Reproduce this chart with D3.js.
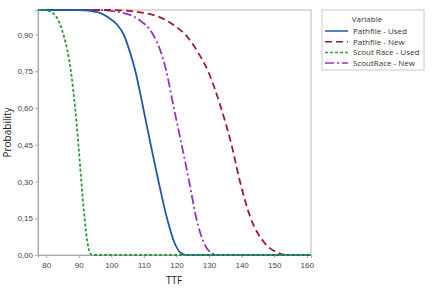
<!DOCTYPE html>
<html lang="en">
<head>
    <meta charset="UTF-8">
    <title>TTF Probability</title>
    <script src="https://d3js.org/d3.v7.min.js"></script>
    <style>
        body { margin: 0; background: #fff; }
        svg { font-family: "Open Sans", "Noto Sans", sans-serif; }
        .tick text { fill: #444; font-size: 8px; }
        .axis-title { fill: #222; font-size: 10px; }
        .legend text { fill: #333; font-size: 8px; }
    </style>
</head>
<body>
    <svg id="chart"></svg>
    <script>
        // Values
        var seriesNames = ["Pathfile - Used", "Pathfile - New", "Scout Race - Used", "ScoutRace - New"];
        var xTicks = [80, 90, 100, 110, 120, 130, 140, 150, 160];
        var yTicks = [0, 0.15, 0.30, 0.45, 0.60, 0.75, 0.90];

        var pathfileUsedX = [77.5, 90, 96, 99, 101.8, 103.8, 105.8, 107.4, 109.8, 112.1, 114.5, 117.1, 119.4, 121.2, 123, 161.3];
        var pathfileUsedY = [1, 1, 0.99, 0.97, 0.94, 0.90, 0.825, 0.75, 0.60, 0.45, 0.30, 0.15, 0.05, 0.01, 0, 0];

        var pathfileNewX = [77.5, 100, 109, 115, 120, 122.7, 126.7, 129.7, 133.7, 136.9, 139.5, 142.8, 147, 151, 154, 161.3];
        var pathfileNewY = [1, 1, 0.99, 0.97, 0.93, 0.90, 0.825, 0.75, 0.60, 0.45, 0.30, 0.15, 0.05, 0.01, 0, 0];

        var scoutUsedX = [77.5, 79, 81.8, 84, 85.3, 87.6, 88.9, 89.9, 90.8, 91.8, 92.7, 93.4, 94.2, 161.3];
        var scoutUsedY = [1, 1, 0.99, 0.95, 0.90, 0.75, 0.60, 0.45, 0.30, 0.15, 0.05, 0.01, 0, 0];

        var scoutNewX = [77.5, 96, 103, 108.5, 112.8, 115.3, 116.9, 119.2, 121.6, 123.9, 126.1, 128.4, 130.5, 133, 161.3];
        var scoutNewY = [1, 1, 0.99, 0.96, 0.90, 0.825, 0.75, 0.60, 0.45, 0.30, 0.15, 0.05, 0.01, 0, 0];

        var colors = ["#1f5aa6", "#9a1c2e", "#2e9a3e", "#9b30c6"];
        var dashes = ["none", "7,4", "3,2", "9,3,2,3"];

        var series = [
            { name: seriesNames[0], xs: pathfileUsedX, ys: pathfileUsedY },
            { name: seriesNames[1], xs: pathfileNewX, ys: pathfileNewY },
            { name: seriesNames[2], xs: scoutUsedX, ys: scoutUsedY },
            { name: seriesNames[3], xs: scoutNewX, ys: scoutNewY }
        ];

        var W = 432, H = 291;
        var margin = { top: 10, right: 121, bottom: 36, left: 38 };
        var width = W - margin.left - margin.right,
            height = H - margin.top - margin.bottom;

        var x = d3.scaleLinear().domain([77.5, 161.3]).range([0, width]);
        var y = d3.scaleLinear().domain([0, 1]).range([height, 0]);

        var svg = d3.select("#chart").attr("width", W).attr("height", H);
        var g = svg.append("g")
            .attr("transform", "translate(" + margin.left + "," + margin.top + ")");

        // frame
        g.append("rect")
            .attr("width", width).attr("height", height)
            .attr("fill", "none").attr("stroke", "#cfcfcf").attr("stroke-width", 1.5);

        var fmt = function(d) { return d3.format(".2f")(d).replace(".", ","); };

        var xAxis = g.append("g")
            .attr("transform", "translate(0," + height + ")")
            .call(d3.axisBottom(x).tickValues(xTicks).tickSize(3).tickPadding(4));
        var yAxis = g.append("g")
            .call(d3.axisLeft(y).tickValues(yTicks).tickFormat(fmt).tickSize(3).tickPadding(2));
        [xAxis, yAxis].forEach(function(a) {
            a.select(".domain").attr("stroke", "#aaa");
            a.selectAll(".tick line").attr("stroke", "#aaa");
        });

        var line = d3.line()
            .x(function(d) { return x(d[0]); })
            .y(function(d) { return y(d[1]); })
            .curve(d3.curveMonotoneX);

        // draw order so the blue solid sits under dashed ones like the original
        [3, 1, 0, 2].forEach(function(i) {
            var s = series[i];
            g.append("path")
                .datum(s.xs.map(function(v, j) { return [v, s.ys[j]]; }))
                .attr("fill", "none")
                .attr("stroke", colors[i])
                .attr("stroke-width", 1.8)
                .attr("stroke-dasharray", dashes[i])
                .attr("d", line);
        });

        // axis titles
        svg.append("text").attr("class", "axis-title")
            .attr("x", 174).attr("y", 284)
            .attr("text-anchor", "middle").text("TTF");
        svg.append("text").attr("class", "axis-title")
            .attr("transform", "translate(11," + (margin.top + height / 2) + ") rotate(-90)")
            .attr("text-anchor", "middle").text("Probability");

        // legend
        var lg = svg.append("g").attr("class", "legend").attr("transform", "translate(322,10)");
        lg.append("rect").attr("width", 102).attr("height", 60)
            .attr("fill", "#fff").attr("stroke", "#c8c8c8");
        lg.append("text").attr("x", 45).attr("y", 12).attr("text-anchor", "middle").text("Variable");
        seriesNames.forEach(function(n, i) {
            var yy = 21 + i * 10.7;
            lg.append("line")
                .attr("x1", 3).attr("x2", 26).attr("y1", yy).attr("y2", yy)
                .attr("stroke", colors[i]).attr("stroke-width", 1.5)
                .attr("stroke-dasharray", dashes[i]);
            lg.append("text").attr("x", 31).attr("y", yy + 3).text(n);
        });
    </script>
</body>
</html>
